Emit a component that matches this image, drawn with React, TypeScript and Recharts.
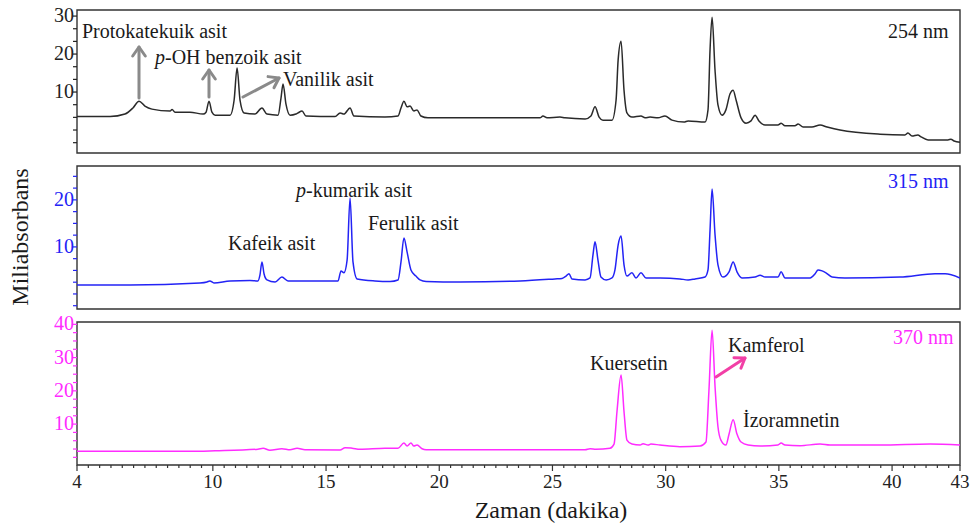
import React from "react";
import { LineChart, Line, XAxis, YAxis, ReferenceArea } from "recharts";

// retention time (min) / absorbance (mAU) pairs
const trace254: [number, number][] = [
  [4.0, 3.55], [5.46, 3.55], [6.12, 4.2], [6.47, 5.8], [6.74, 7.6], [7.0, 6.3], [7.31, 5.5],
  [8.11, 5.0], [8.2, 5.4], [8.33, 4.7], [8.99, 4.7], [9.57, 4.2], [9.7, 4.7], [9.83, 7.6],
  [9.96, 4.7], [10.1, 3.9], [10.76, 3.9], [10.94, 7.9], [11.07, 16.3], [11.2, 7.9], [11.38, 4.5],
  [11.86, 4.2], [12.17, 5.8], [12.39, 4.2], [12.88, 3.9], [13.01, 8.4], [13.1, 12.1], [13.23, 6.8],
  [13.41, 3.9], [13.67, 4.2], [13.76, 4.5], [13.94, 5.0], [14.11, 3.7], [15.4, 3.55], [15.62, 4.5],
  [15.79, 4.2], [16.06, 5.8], [16.23, 3.7], [17.6, 3.4], [18.18, 3.7], [18.31, 5.8], [18.44, 7.6],
  [18.58, 6.1], [18.71, 6.3], [18.88, 5.0], [19.02, 5.3], [19.19, 3.7], [19.5, 3.2], [21.8, 3.2],
  [24.45, 3.2], [24.58, 3.7], [24.76, 3.2], [25.33, 3.4], [25.55, 3.2], [26.44, 2.9], [26.7, 3.7],
  [26.88, 6.1], [27.06, 3.4], [27.23, 2.6], [27.63, 2.6], [27.81, 7.9], [27.9, 18.4], [28.03, 23.4],
  [28.16, 10.5], [28.29, 4.5], [28.51, 3.4], [28.91, 3.7], [29.09, 3.2], [29.31, 3.4], [29.66, 3.2],
  [29.97, 3.7], [30.28, 2.6], [30.81, 2.1], [30.99, 2.4], [31.74, 2.1], [31.87, 5.3], [31.96, 21.1],
  [32.05, 29.7], [32.18, 15.8], [32.31, 6.6], [32.49, 3.9], [32.66, 5.3], [32.84, 9.5], [32.98, 10.5],
  [33.11, 7.9], [33.33, 3.2], [33.55, 1.8], [33.77, 2.4], [33.95, 3.9], [34.12, 2.4], [34.39, 1.3],
  [34.96, 1.3], [35.1, 1.8], [35.27, 1.1], [35.71, 1.1], [35.85, 1.6], [36.07, 0.8], [36.46, 0.8],
  [36.82, 1.3], [37.13, 0.8], [37.7, 0.0], [39.47, -1.1], [40.57, -1.3], [40.7, -0.8], [40.88, -1.6],
  [41.14, -1.3], [41.28, -1.8], [41.59, -2.6], [42.47, -2.6], [42.6, -2.4], [42.74, -2.9], [43.0, -3.2],
];

const trace315: [number, number][] = [
  [4.0, 1.91], [6.34, 1.91], [9.43, 2.34], [9.74, 2.55], [9.87, 2.77], [10.05, 2.34], [10.76, 2.77],
  [11.64, 2.87], [11.99, 2.77], [12.08, 4.0], [12.17, 6.8], [12.26, 4.3], [12.39, 3.0], [12.75, 2.55],
  [13.05, 3.6], [13.32, 2.77], [13.85, 2.77], [15.53, 2.77], [15.66, 4.9], [15.79, 4.5], [15.93, 7.2],
  [16.06, 20.4], [16.19, 6.8], [16.37, 3.2], [17.16, 2.77], [17.83, 2.66], [18.18, 2.98], [18.31, 6.8],
  [18.44, 11.9], [18.58, 8.9], [18.75, 5.1], [18.97, 3.8], [19.15, 2.98], [19.42, 2.66], [20.92, 2.55],
  [23.57, 2.77], [25.11, 3.2], [25.42, 3.3], [25.6, 3.8], [25.73, 4.3], [25.86, 3.2], [26.44, 2.98],
  [26.66, 3.4], [26.79, 8.3], [26.88, 11.1], [27.01, 7.2], [27.14, 3.6], [27.37, 2.98], [27.63, 3.4],
  [27.76, 5.1], [27.9, 10.4], [28.03, 12.3], [28.16, 6.2], [28.29, 3.8], [28.51, 4.5], [28.69, 3.4],
  [28.91, 4.5], [29.13, 3.4], [29.75, 3.4], [30.63, 3.2], [30.99, 2.98], [31.3, 3.2], [31.74, 3.6],
  [31.87, 5.1], [31.96, 13.6], [32.05, 22.3], [32.18, 12.6], [32.31, 6.2], [32.53, 3.6], [32.8, 4.7],
  [32.98, 6.8], [33.15, 4.7], [33.37, 3.4], [33.95, 3.6], [34.17, 4.0], [34.39, 3.6], [34.96, 3.6],
  [35.1, 4.7], [35.27, 3.4], [36.38, 3.4], [36.6, 4.3], [36.73, 5.1], [36.91, 4.9], [37.08, 4.5],
  [37.35, 3.6], [37.92, 3.4], [40.35, 3.6], [41.9, 4.3], [42.34, 4.3], [43.0, 3.4],
];

const trace370: [number, number][] = [
  [4.0, 1.83], [8.99, 1.83], [10.1, 1.99], [11.99, 2.45], [12.22, 2.75], [12.52, 2.14], [13.05, 2.6],
  [13.41, 2.29], [13.72, 2.75], [14.07, 2.29], [15.62, 2.23], [15.84, 2.9], [16.15, 2.75], [16.5, 2.45],
  [17.6, 2.75], [18.18, 2.75], [18.44, 4.3], [18.58, 3.4], [18.75, 4.3], [18.88, 3.4], [19.02, 3.7],
  [19.24, 2.6], [19.42, 2.29], [26.44, 2.29], [26.66, 2.6], [26.92, 2.45], [27.54, 2.75], [27.72, 4.0],
  [27.85, 13.8], [28.03, 24.8], [28.16, 13.8], [28.29, 5.2], [28.51, 4.0], [28.87, 3.7], [29.0, 4.1],
  [29.22, 3.7], [29.35, 4.0], [29.75, 3.7], [30.63, 3.2], [31.52, 3.4], [31.78, 4.6], [31.91, 19.9],
  [32.05, 38.2], [32.18, 21.4], [32.31, 9.2], [32.44, 5.2], [32.66, 3.7], [32.8, 7.0], [32.98, 11.3],
  [33.15, 7.0], [33.33, 4.6], [33.64, 3.7], [34.17, 3.4], [34.96, 3.7], [35.1, 4.3], [35.27, 3.7],
  [35.93, 3.5], [36.82, 4.0], [37.26, 3.7], [39.47, 3.7], [41.68, 4.0], [43.0, 3.7],
];

const xLabels = [4, 10, 15, 20, 25, 30, 35, 40, 43];
const yLabels254 = [10, 20, 30];
const yLabels315 = [10, 20];
const yLabels370 = [10, 20, 30, 40];

const serif = '"Liberation Serif", "DejaVu Serif", serif';
const BLACK = "#2a2a2a";
const BLUE = "#2323f5";
const MAGENTA = "#ff2cff";

const toRows = (pts: [number, number][]) => pts.map(([t, v]) => ({ t, v }));

function stepTicks(from: number, to: number, step: number) {
  const out: number[] = [];
  for (let k = Math.round(from / step); k * step <= to + 1e-9; k++) out.push(+(k * step).toFixed(4));
  return out;
}

const xTicks = Array.from(new Set([...stepTicks(4, 43, 0.5), ...xLabels])).sort((a, b) => a - b);

function YTick(props: any) {
  const { x, y, payload, color, labels } = props;
  const v = payload.value;
  const lab = labels.find((l: number) => Math.abs(l - v) < 1e-3);
  return (
    <g>
      <line x1={x - 4} x2={x} y1={y} y2={y} stroke={color} strokeWidth={1.2} />
      {lab !== undefined && (
        <text x={x - 3} y={y} dy={-1} textAnchor="end" dominantBaseline="central"
          fill={color} fontSize={20} fontFamily={serif}>{lab}</text>
      )}
    </g>
  );
}

function XTick(props: any) {
  const { x, y, payload } = props;
  const major = xLabels.includes(payload.value);
  return (
    <g>
      <line x1={x} x2={x} y1={y} y2={y + (major ? 6 : 3)} stroke="#333" strokeWidth={1.2} />
      {major && (
        <text x={x} y={y + 23} textAnchor="middle" fill="#222" fontSize={19} fontFamily={serif}>
          {payload.value}
        </text>
      )}
    </g>
  );
}

type PanelProps = {
  rows: { t: number; v: number }[];
  color: string;
  domain: [number, number];
  ticks: number[];
  labels: number[];
  top: number;
  height: number;
  margin: { top: number; right: number; bottom: number; left: number };
  showX?: boolean;
};

function Panel({ rows, color, domain, ticks, labels, top, height, margin, showX }: PanelProps) {
  return (
    <div style={{ position: "absolute", left: 0, top }}>
      <LineChart width={976} height={height} data={rows} margin={margin}>
        <XAxis dataKey="t" type="number" domain={[4, 43]} allowDataOverflow hide={!showX}
          ticks={xTicks} interval={0} axisLine={false} tickLine={false} tickSize={0} tickMargin={0}
          height={65} tick={<XTick />} />
        <YAxis type="number" domain={domain} allowDataOverflow width={77} ticks={ticks} interval={0}
          axisLine={false} tickLine={false} tickSize={0} tickMargin={0}
          tick={<YTick color={color === BLACK ? "#222" : color} labels={labels} />} />
        <ReferenceArea x1={4} x2={43} y1={domain[0]} y2={domain[1]} fill="none" fillOpacity={0}
          stroke="#333" strokeWidth={1.4} />
        <Line type="monotone" dataKey="v" stroke={color} strokeWidth={1.5} dot={false}
          isAnimationActive={false} />
      </LineChart>
    </div>
  );
}

function Arrow({ x1, y1, x2, y2, color }: { x1: number; y1: number; x2: number; y2: number; color: string }) {
  const len = Math.hypot(x2 - x1, y2 - y1);
  const ux = (x1 - x2) / len;
  const uy = (y1 - y2) / len;
  const a = (35 * Math.PI) / 180;
  const h = 11;
  const w1 = [x2 + h * (ux * Math.cos(a) - uy * Math.sin(a)), y2 + h * (ux * Math.sin(a) + uy * Math.cos(a))];
  const w2 = [x2 + h * (ux * Math.cos(a) + uy * Math.sin(a)), y2 + h * (-ux * Math.sin(a) + uy * Math.cos(a))];
  return (
    <g stroke={color} strokeWidth={3} fill="none" strokeLinecap="round" strokeLinejoin="round">
      <line x1={x1} y1={y1} x2={x2} y2={y2} />
      <polyline points={`${w1[0]},${w1[1]} ${x2},${y2} ${w2[0]},${w2[1]}`} />
    </g>
  );
}

export default function App() {
  const txt = { fontFamily: serif, fontSize: 20, fill: "#1a1a1a" } as const;
  return (
    <div style={{ position: "absolute", left: 0, top: 0, width: 976, height: 530, background: "#fff", fontFamily: serif }}>
      <Panel rows={toRows(trace254)} color={BLACK} domain={[-6.05, 31.6]} ticks={stepTicks(-3.34, 30, 10 / 3)}
        labels={yLabels254} top={0} height={160} margin={{ top: 10, right: 16, bottom: 7, left: 0 }} />
      <Panel rows={toRows(trace315)} color={BLUE} domain={[-3.2, 27.2]} ticks={stepTicks(-2.5, 25, 2.5)}
        labels={yLabels315} top={158} height={157} margin={{ top: 8, right: 16, bottom: 6, left: 0 }} />
      <Panel rows={toRows(trace370)} color={MAGENTA} domain={[-2.3, 40.7]} ticks={stepTicks(0, 40, 2.5)}
        labels={yLabels370} top={309} height={221} margin={{ top: 13, right: 16, bottom: 0, left: 0 }} showX />

      <svg width={976} height={530} style={{ position: "absolute", left: 0, top: 0, pointerEvents: "none" }}>
        <text {...txt} x={82} y={38}>Protokatekuik asit</text>
        <Arrow x1={139} y1={98} x2={139} y2={47} color="#8a8a8a" />
        <text {...txt} x={155} y={64}><tspan fontStyle="italic">p</tspan>-OH benzoik asit</text>
        <Arrow x1={209} y1={97} x2={209} y2={70} color="#8a8a8a" />
        <Arrow x1={243} y1={97} x2={279} y2={78} color="#8a8a8a" />
        <text {...txt} x={283} y={86}>Vanilik asit</text>
        <text {...txt} x={888} y={38}>254 nm</text>

        <text {...txt} x={228} y={250}>Kafeik asit</text>
        <text {...txt} x={296} y={197}><tspan fontStyle="italic">p</tspan>-kumarik asit</text>
        <text {...txt} x={368} y={230}>Ferulik asit</text>
        <text {...txt} x={888} y={188} fill={BLUE}>315 nm</text>

        <text {...txt} x={590} y={370}>Kuersetin</text>
        <text {...txt} x={728} y={352}>Kamferol</text>
        <Arrow x1={716} y1={377} x2={745} y2={358} color="#f23fa6" />
        <text {...txt} x={743} y={427}>İzoramnetin</text>
        <text {...txt} x={893} y={344} fill={MAGENTA}>370 nm</text>

        <text x={551} y={518} textAnchor="middle" fontFamily={serif} fontSize={24} fill="#1a1a1a">Zaman (dakika)</text>
        <text x={20} y={237} transform="rotate(-90 20 237)" textAnchor="middle" dominantBaseline="central"
          fontFamily={serif} fontSize={24} fill="#1a1a1a">Miliabsorbans</text>
      </svg>
    </div>
  );
}
